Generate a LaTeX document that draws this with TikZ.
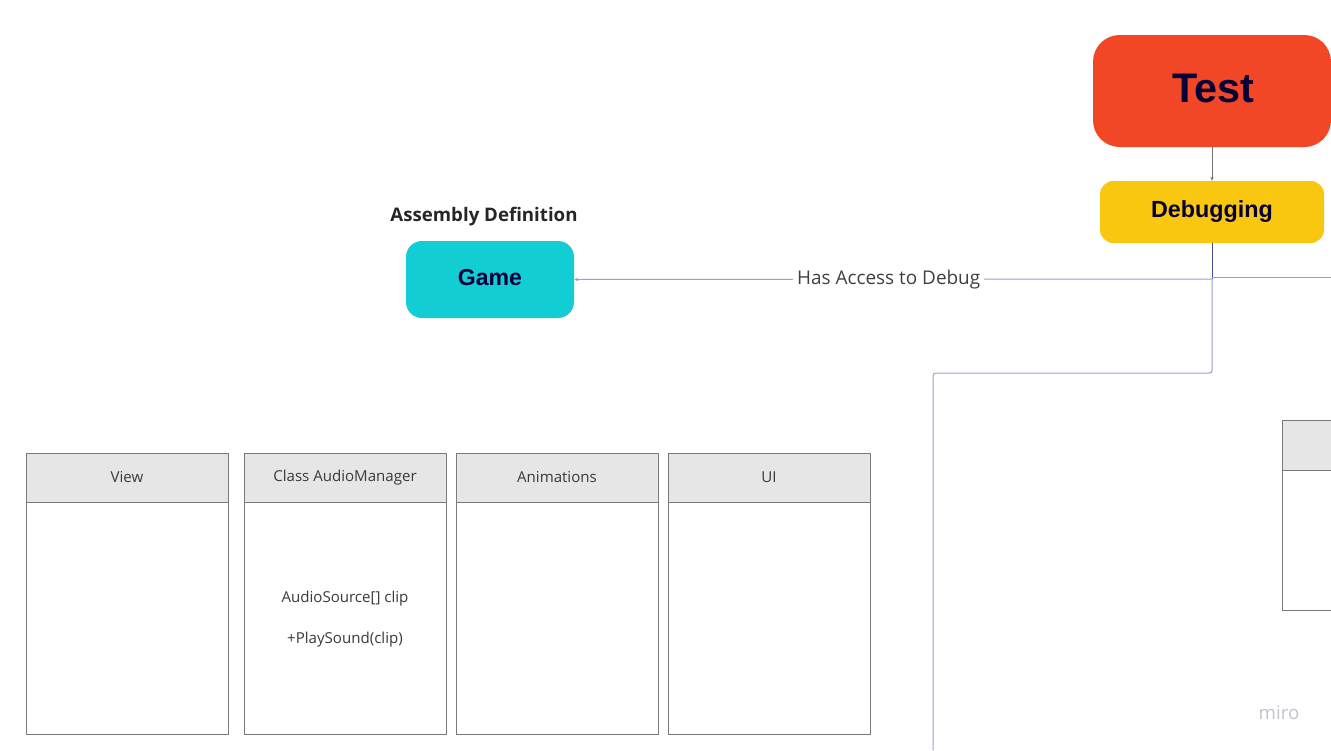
\documentclass[tikz,border=0pt]{standalone}
\usepackage{fontspec}
\setmainfont{Open Sans}
\newfontfamily\arialf{Liberation Sans}
\usetikzlibrary{arrows.meta}
\definecolor{miroRed}{HTML}{F24726}
\definecolor{miroYellow}{HTML}{FAC710}
\definecolor{miroCyan}{HTML}{12CDD4}
\definecolor{miroNavy}{HTML}{050038}
\definecolor{lineLav}{HTML}{9A9ED0}
\definecolor{lineNavy}{HTML}{4A4F9A}
\definecolor{hdrGray}{HTML}{E6E6E6}
\definecolor{boxLine}{HTML}{7A7A7A}
\definecolor{txtGray}{HTML}{3A3A3A}
\definecolor{wmGray}{HTML}{C2C3CC}
\tikzset{
  stickyblock/.style={rounded corners=14, draw=none, inner sep=0pt, font=\arialf\bfseries, text=miroNavy},
  classhdr/.style={draw=boxLine, fill=hdrGray, line width=0.8pt, inner sep=0pt, text=txtGray, font=\fontsize{11.3}{13}\selectfont},
  classbody/.style={draw=boxLine, fill=white, line width=0.8pt, inner sep=0pt},
  lavline/.style={draw=lineLav, line width=0.75pt},
  bodytext/.style={text=txtGray, font=\fontsize{11.3}{13}\selectfont, inner sep=0pt},
}
\begin{document}
\begin{tikzpicture}[x=0.75pt,y=-0.75pt]
\useasboundingbox (0,0) rectangle (1331,750);
\fill[white] (0,0) rectangle (1331,750);

% Test
\begin{scope}
\clip (0,0) rectangle (1331,750);
\node[stickyblock, fill=miroRed, minimum width=238*0.75pt, minimum height=112*0.75pt, rounded corners=20] (test) at (1212,91) {};
\end{scope}
\node[text=miroNavy, inner sep=0pt, font=\arialf\bfseries\fontsize{31}{34}\selectfont] (testtxt) at (1213,88) {Test};

% Debugging
\node[stickyblock, fill=miroYellow, minimum width=224*0.75pt, minimum height=62*0.75pt, rounded corners=10, font=\arialf\bfseries\fontsize{17.5}{20}\selectfont] (debug) at (1212,212) {Debugging};

% Game
\node[stickyblock, fill=miroCyan, minimum width=168*0.75pt, minimum height=77*0.75pt, rounded corners=12, font=\arialf\bfseries\fontsize{17.3}{20}\selectfont] (game) at (490,279.5) {};
\node[text=miroNavy, inner sep=0pt, font=\arialf\bfseries\fontsize{17.3}{20}\selectfont] (gametxt) at (490,277.5) {Game};

\node[font=\bfseries\fontsize{14}{16}\selectfont, text=black!85, inner sep=0pt] (asmlabel) at (484,216.5) {Assembly Definition};

% connectors
\draw[draw=black!55, line width=0.6pt, -{Stealth[length=3pt,width=2.5pt]}] (test.south) -- (debug.north);

\coordinate (j1) at (1212,279);
\coordinate (j2) at (1212,373);
\coordinate (j3) at (933,373);
\coordinate (j4) at (933,750);
\coordinate (r1) at (1212,277);
\coordinate (r2) at (1331,277);

\draw[draw=lineNavy, line width=0.75pt] (debug.south) -- (j1);
\draw[lavline, -{Stealth[length=3pt,width=2.5pt]}] (j1) -- node[fill=white, inner sep=3pt, text=black!75, font=\fontsize{14.2}{16}\selectfont, pos=0.507] (lbl) {Has Access to Debug} (game.east);
\draw[lavline] (r1) -- (r2);
\draw[lavline, rounded corners=2] (j1) -- (j2) -- (j3) -- (j4);

% class boxes
\foreach \nm/\xl/\ttl in {view/26/View, audio/244/Class AudioManager, anim/456/Animations, ui/668/UI}{
  \node[classbody, anchor=north west, minimum width=202*0.75pt, minimum height=281*0.75pt] (\nm body) at (\xl,453) {};
  \node[classhdr, anchor=north west, minimum width=202*0.75pt, minimum height=49*0.75pt] (\nm hdr) at (\xl,453) {};
  \node[bodytext] (\nm ttl) at (\xl+101,477.5) {\ttl};
}
\node[bodytext] (audf) at (345,598.5) {AudioSource[] clip};
\node[bodytext] (audm) at (345,639.5) {+PlaySound(clip)};

% partial box right
\begin{scope}
\clip (0,0) rectangle (1331,750);
\node[classbody, anchor=north west, minimum width=120*0.75pt, minimum height=190*0.75pt] (rbody) at (1282,420) {};
\node[classhdr, anchor=north west, minimum width=120*0.75pt, minimum height=50*0.75pt] (rhdr) at (1282,420) {};
\end{scope}

\node[text=wmGray, font=\fontsize{14}{15}\selectfont, inner sep=0pt] (miro) at (1279,713) {miro};
\end{tikzpicture}
\end{document}
